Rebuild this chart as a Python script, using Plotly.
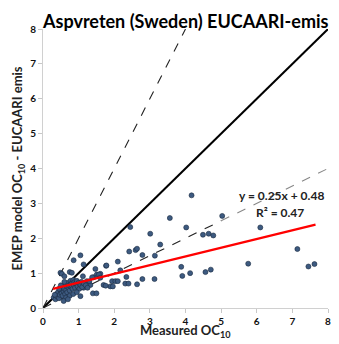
import plotly.graph_objects as go

# Measured OC10 (x) and EMEP model OC10 (y)
measured = [
    2.45, 3.56, 3.01, 3.29, 2.42, 2.60, 2.64, 2.79, 3.14, 2.10, 1.77, 2.17, 1.61,
    1.94, 2.03, 2.10, 1.89, 1.96, 2.34, 2.31, 2.40, 2.64, 2.79, 3.13,
    4.17, 5.03, 4.02, 4.49, 4.65, 4.78, 5.76, 3.88, 3.91, 4.13, 4.56, 4.71,
    6.10, 7.14, 7.45, 7.62,
    1.05, 0.86, 1.14, 0.49, 0.53, 0.60, 0.75, 0.81, 1.47, 1.51, 1.57, 1.70, 1.76,
    1.05, 1.78, 1.42, 1.61, 1.12, 1.38, 1.33, 1.40, 1.50, 1.14, 1.23, 0.49,
    0.30, 0.35, 0.38, 0.40, 0.42, 0.45, 0.47, 0.50, 0.52, 0.55, 0.55, 0.58, 0.60,
    0.62, 0.63, 0.65, 0.67, 0.68, 0.70, 0.72, 0.73, 0.75, 0.77, 0.78, 0.80, 0.82,
    0.83, 0.85, 0.87, 0.88, 0.90, 0.92, 0.95, 0.97, 1.00, 1.02, 1.05, 1.08, 1.10,
    1.15, 1.20, 1.25, 0.45, 0.50, 0.60, 0.65, 0.75, 0.85, 0.95, 1.30, 0.33, 0.58,
    0.70,
]
model = [
    2.32, 2.58, 2.13, 1.82, 1.62, 1.66, 1.70, 1.52, 1.50, 1.33, 1.21, 1.08, 0.98,
    0.77, 0.77, 0.77, 0.62, 0.62, 0.89, 0.70, 0.70, 0.68, 0.83, 0.83,
    3.23, 2.64, 2.31, 2.10, 2.13, 2.08, 1.27, 1.18, 0.92, 1.00, 1.03, 1.10,
    2.31, 1.69, 1.19, 1.26,
    1.51, 1.37, 1.25, 1.01, 0.98, 0.91, 1.03, 1.01, 1.12, 0.96, 0.96, 0.66, 0.64,
    0.34, 1.22, 0.88, 0.87, 0.91, 0.88, 0.66, 0.42, 0.42, 0.58, 0.77, 0.34,
    0.30, 0.25, 0.40, 0.33, 0.45, 0.28, 0.38, 0.50, 0.42, 0.35, 0.60, 0.48, 0.55,
    0.40, 0.68, 0.52, 0.62, 0.45, 0.72, 0.58, 0.65, 0.50, 0.78, 0.68, 0.60, 0.72,
    0.55, 0.80, 0.65, 0.74, 0.58, 0.70, 0.78, 0.62, 0.72, 0.55, 0.66, 0.75, 0.60,
    0.70, 0.65, 0.58, 0.55, 0.65, 0.75, 0.30, 0.35, 0.40, 0.45, 0.77, 0.38, 0.20,
    0.25,
]

# Reference lines (1:1, 2:1, 1:2) and regression fit
ref_x = [0, 8]
one_to_one = [0, 8]
two_to_one_x = [0, 4]
two_to_one_y = [0, 8]
half_x = [0, 5, 8]
half_y = [0, 2.5, 4]
slope, intercept, r2 = 0.25, 0.48, 0.47
fit_x = [0.28, 7.65]
fit_y = [slope * v + intercept for v in fit_x]

tick_vals = [0, 1, 2, 3, 4, 5, 6, 7, 8]

FONT = "Lato"

fig = go.Figure()
fig.add_trace(go.Scatter(x=ref_x, y=one_to_one, mode="lines",
                         line=dict(color="black", width=2), hoverinfo="skip"))
fig.add_trace(go.Scatter(x=two_to_one_x, y=two_to_one_y, mode="lines",
                         line=dict(color="#222222", width=1.1, dash="dash"), hoverinfo="skip"))
fig.add_trace(go.Scatter(x=half_x[:2], y=half_y[:2], mode="lines",
                         line=dict(color="#222222", width=1.1, dash="dash"), hoverinfo="skip"))
fig.add_trace(go.Scatter(x=half_x[1:], y=half_y[1:], mode="lines",
                         line=dict(color="#888888", width=1.1, dash="dash"), hoverinfo="skip"))
fig.add_trace(go.Scatter(x=measured, y=model, mode="markers",
                         marker=dict(size=5, color="#3d5a80",
                                     line=dict(color="#1a2a40", width=0.6))))
fig.add_trace(go.Scatter(x=fit_x, y=fit_y, mode="lines",
                         line=dict(color="#ff0000", width=2.2), hoverinfo="skip"))

axis_common = dict(
    range=[0, 8], tickvals=tick_vals, showgrid=False, zeroline=False,
    showline=True, linecolor="#d0d0d0", linewidth=1, automargin=False,
    ticks="outside", ticklen=4, tickcolor="#c8c8c8",
    tickfont=dict(family=FONT, size=10, color="#111111", weight="bold"),
)
fig.update_xaxes(**axis_common)
fig.update_yaxes(**axis_common)

fig.add_annotation(text="Aspvreten (Sweden) EUCAARI-emis", xref="paper", yref="paper",
                   x=0.5, y=1.0, yshift=8, xanchor="center", yanchor="middle", showarrow=False,
                   font=dict(family=FONT, size=18, color="black", weight="bold"))
fig.add_annotation(text="Measured OC<sub>10</sub>", xref="paper", yref="paper",
                   x=0.5, y=-0.082, xanchor="center", yanchor="middle", showarrow=False,
                   font=dict(family=FONT, size=13, color="#222222", weight="bold"))
fig.add_annotation(text="EMEP model OC<sub>10</sub> - EUCAARI emis", xref="paper", yref="paper",
                   x=-0.088, y=0.5, xanchor="center", yanchor="middle", textangle=-90,
                   showarrow=False,
                   font=dict(family=FONT, size=13, color="#222222", weight="bold"))
fig.add_annotation(text=f"y = {slope:.2f}x + {intercept:.2f}", x=7.93, y=3.22,
                   xanchor="right", yanchor="middle", showarrow=False,
                   font=dict(family=FONT, size=12, color="#222222", weight="bold"))
fig.add_annotation(text=f"R² = {r2:.2f}", x=7.37, y=2.74,
                   xanchor="right", yanchor="middle", showarrow=False,
                   font=dict(family=FONT, size=12, color="#222222", weight="bold"))

# The page body has an 8px margin, so the figure is sized to fill the rest.
fig.update_layout(
    width=331, height=336, showlegend=False,
    margin=dict(l=35, r=11, t=21, b=36),
    plot_bgcolor="white", paper_bgcolor="white",
)

fig.write_html("out.html")
